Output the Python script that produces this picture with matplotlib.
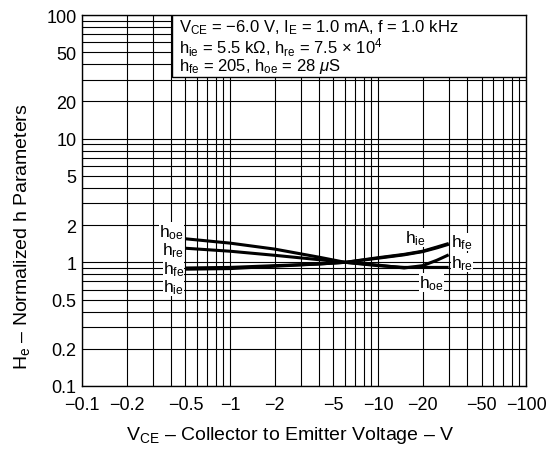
import numpy as np
import matplotlib
matplotlib.use("Agg")
import matplotlib.pyplot as plt
from matplotlib.ticker import FixedLocator, NullFormatter, NullLocator

plt.rcParams['font.family'] = ['Liberation Sans', 'DejaVu Sans']
plt.rcParams['mathtext.fontset'] = 'custom'
plt.rcParams['mathtext.rm'] = 'Liberation Sans'
plt.rcParams['mathtext.it'] = 'Liberation Sans:italic'

# collector-emitter voltage (V) and normalized h parameters
vce = [-0.5, -1, -2, -4, -6, -10, -15, -20, -25, -30]
h_oe = [1.55, 1.43, 1.28, 1.10, 1.0, 0.94, 0.91, 0.91, 0.91, 0.91]
h_re = [1.30, 1.23, 1.14, 1.05, 1.0, 0.95, 0.90, 0.94, 1.04, 1.15]
h_fe = [0.90, 0.91, 0.94, 0.97, 1.0, 1.08, 1.15, 1.22, 1.31, 1.40]
h_ie = [0.88, 0.89, 0.93, 0.97, 1.0, 1.09, 1.16, 1.23, 1.33, 1.42]

x_ticks = [0.1, 0.2, 0.5, 1, 2, 5, 10, 20, 50, 100]
y_ticks = [0.1, 0.2, 0.5, 1, 2, 5, 10, 20, 50, 100]

FS = 13

fig = plt.figure(figsize=(5.52, 4.6), dpi=100)
ax = fig.add_axes([0.1486, 0.1587, 0.8044, 0.8065])
ax.set_xscale('log')
ax.set_yscale('log')
ax.set_xlim(0.1, 100)
ax.set_ylim(0.1, 100)

# full log grid (1..9 in each decade)
grid = [m * 10.0 ** d for d in range(-1, 2) for m in range(1, 10)] + [100]
for g in grid:
    ax.axvline(g, color='black', lw=0.8, zorder=1)
    ax.axhline(g, color='black', lw=0.8, zorder=1)

v = np.abs(vce)
for h in (h_oe, h_re, h_fe, h_ie):
    ax.plot(v, h, color='black', lw=2.2, solid_capstyle='butt', zorder=3)

ax.xaxis.set_major_locator(FixedLocator(x_ticks))
ax.yaxis.set_major_locator(FixedLocator(y_ticks))
ax.xaxis.set_minor_locator(NullLocator())
ax.yaxis.set_minor_locator(NullLocator())
ax.xaxis.set_minor_formatter(NullFormatter())
ax.yaxis.set_minor_formatter(NullFormatter())
ax.set_xticklabels(['\u2212' + f'{t:g}' for t in x_ticks], fontsize=FS)
ax.set_yticklabels([f'{t:g}' for t in y_ticks], fontsize=FS)
ax.tick_params(axis='x', length=0, pad=7)
ax.tick_params(axis='y', length=0, pad=4)
for s in ax.spines.values():
    s.set_linewidth(1.0)
    s.set_zorder(4)

fig.text(0.525, 0.054, 'V$_\\mathregular{CE}$ \u2013 Collector to Emitter Voltage \u2013 V',
         ha='center', va='center', fontsize=14)
fig.text(0.04, 0.485, 'H$_\\mathregular{e}$ \u2013 Normalized h Parameters',
         ha='center', va='center', rotation=90, fontsize=14)

# conditions box (one text block so the lines share a layout)
cond = ('V$_\\mathregular{CE}$ = \u22126.0 V, I$_\\mathregular{E}$ = 1.0 mA, f = 1.0 kHz\n'
        'h$_\\mathregular{ie}$ = 5.5 k\u03a9, h$_\\mathregular{re}$ = 7.5 \u00d7 10$^\\mathregular{4}$\n'
        'h$_\\mathregular{fe}$ = 205, h$_\\mathregular{oe}$ = 28 $\\mu$S')
ax.add_patch(plt.Rectangle((0.203, 0.833), 0.797, 0.167, transform=ax.transAxes,
                           facecolor='white', edgecolor='black', lw=1.0, zorder=5))
ax.text(0.218, 0.993, cond, transform=ax.transAxes, ha='left', va='top',
        fontsize=12, linespacing=0.92, zorder=6)

# curve labels
lab_kw = dict(fontsize=12.5, zorder=6,
              bbox=dict(facecolor='white', edgecolor='none', pad=0.0))
left = [('oe', 1.78), ('re', 1.27), ('fe', 0.895), ('ie', 0.63)]
for name, yv in left:
    ax.text(0.49, yv, 'h$_\\mathregular{' + name + '}$', ha='right', va='center', **lab_kw)
ax.text(15.2, 1.58, 'h$_\\mathregular{ie}$', ha='left', va='center', **lab_kw)
ax.text(31, 1.46, 'h$_\\mathregular{fe}$', ha='left', va='center', **lab_kw)
ax.text(31, 1.0, 'h$_\\mathregular{re}$', ha='left', va='center', **lab_kw)
ax.text(19, 0.69, 'h$_\\mathregular{oe}$', ha='left', va='center', **lab_kw)

fig.savefig('out.png', dpi=100)
